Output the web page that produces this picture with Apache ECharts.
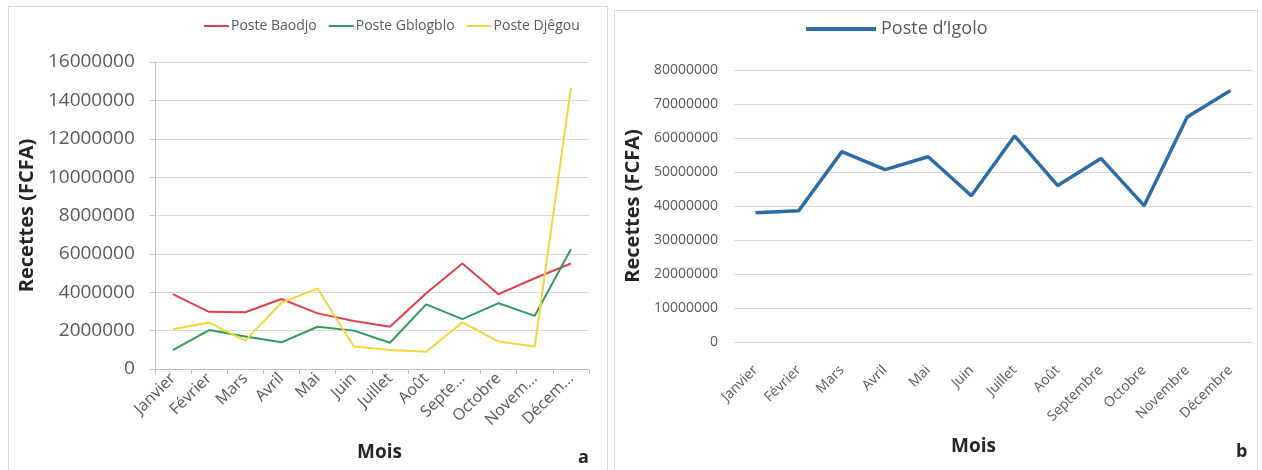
<!DOCTYPE html>
<html>
<head>
<meta charset="utf-8">
<script src="https://cdn.jsdelivr.net/npm/echarts@6/dist/echarts.min.js"></script>
<style>
  html, body { margin: 0; padding: 0; background: #fff; width: 1262px; height: 470px; overflow: hidden; }
  .panel { position: absolute; border: 1px solid #d9d9d9; box-sizing: border-box; background: #fff; }
  #chartA { left: 8px; top: 6px; width: 600px; height: 470px; }
  #chartB { left: 614px; top: 10px; width: 644px; height: 466px; }
</style>
</head>
<body>
<div id="chartA" class="panel"></div>
<div id="chartB" class="panel"></div>
<script>
// mois (axe x)
const moisCourts = ["Janvier", "Février", "Mars", "Avril", "Mai", "Juin", "Juillet", "Août", "Septe...", "Octobre", "Novem...", "Décem..."];
const moisLongs = ["Janvier", "Février", "Mars", "Avril", "Mai", "Juin", "Juillet", "Août", "Septembre", "Octobre", "Novembre", "Décembre"];

// recettes (FCFA) - graphique a
const baodjo = [3900000, 2980000, 2960000, 3650000, 2900000, 2500000, 2200000, 3950000, 5500000, 3900000, 4730000, 5500000];
const gblogblo = [990000, 2030000, 1690000, 1390000, 2200000, 2000000, 1370000, 3370000, 2600000, 3430000, 2770000, 6240000];
const djegou = [2070000, 2420000, 1480000, 3450000, 4200000, 1170000, 990000, 900000, 2430000, 1430000, 1170000, 14650000];

// recettes (FCFA) - graphique b
const igolo = [38000000, 38600000, 56000000, 50700000, 54500000, 43000000, 60600000, 46000000, 54000000, 40100000, 66200000, 74000000];

const gris = "#595959";
const police = "'Open Sans', Lato, sans-serif";
const brut = (v) => String(v); // pas de séparateur de milliers

// graphique a
const chartA = echarts.init(document.getElementById("chartA"));
chartA.setOption({
  animation: false,
  textStyle: { fontFamily: police },
  legend: {
    left: 190,
    top: 7,
    icon: "rect",
    itemWidth: 25,
    itemHeight: 2,
    itemGap: 12,
    textStyle: { color: gris, fontSize: 14, fontFamily: police, padding: [0, 0, 0, -3] },
    data: ["Poste Baodjo", "Poste Gblogblo", "Poste Djêgou"],
  },
  grid: { left: 139, right: 18, top: 55, bottom: 106 },
  xAxis: {
    type: "category",
    data: moisCourts,
    axisLine: { lineStyle: { color: "#bfbfbf" } },
    axisTick: { show: true, length: 5, lineStyle: { color: "#bfbfbf" } },
    axisLabel: { rotate: 45, color: gris, fontSize: 16, margin: 7, interval: 0 },
  },
  yAxis: {
    type: "value",
    min: 0,
    max: 16000000,
    interval: 2000000,
    name: "Recettes (FCFA)",
    nameLocation: "middle",
    nameGap: 116,
    nameTextStyle: { color: "#262626", fontSize: 20, fontWeight: "bold", fontFamily: police },
    axisLine: { show: true, lineStyle: { color: "#bfbfbf" } },
    axisTick: { show: true, length: 5, lineStyle: { color: "#bfbfbf" } },
    axisLabel: { color: gris, fontSize: 19, margin: 20, formatter: brut },
    splitLine: { lineStyle: { color: "#d9d9d9" } },
  },
  graphic: [
    { type: "text", left: 348, top: 436, style: { text: "Mois", fontSize: 19, fontWeight: "bold", fill: "#262626", fontFamily: police } },
    { type: "text", left: 569, top: 442, style: { text: "a", fontSize: 18, fontWeight: "bold", fill: "#262626", fontFamily: police } },
  ],
  series: [
    { name: "Poste Baodjo", type: "line", data: baodjo, symbol: "none", lineStyle: { color: "#e0404e", width: 2 }, itemStyle: { color: "#e0404e" } },
    { name: "Poste Gblogblo", type: "line", data: gblogblo, symbol: "none", lineStyle: { color: "#2f9b5c", width: 2 }, itemStyle: { color: "#2f9b5c" } },
    { name: "Poste Djêgou", type: "line", data: djegou, symbol: "none", lineStyle: { color: "#f4d53c", width: 2 }, itemStyle: { color: "#f4d53c" } },
  ],
});

// graphique b
const chartB = echarts.init(document.getElementById("chartB"));
chartB.setOption({
  animation: false,
  textStyle: { fontFamily: police },
  legend: {
    left: 186,
    top: 4,
    icon: "rect",
    itemWidth: 70,
    itemHeight: 4,
    textStyle: { color: gris, fontSize: 18, fontFamily: police },
    data: ["Poste d’Igolo"],
  },
  grid: { left: 109, right: 5, top: 59, bottom: 133 },
  xAxis: {
    type: "category",
    data: moisLongs,
    axisLine: { show: false },
    axisTick: { show: false },
    axisLabel: { rotate: 45, color: gris, fontSize: 14, margin: 26, interval: 0 },
  },
  yAxis: {
    type: "value",
    min: 0,
    max: 80000000,
    interval: 10000000,
    name: "Recettes (FCFA)",
    nameLocation: "middle",
    nameGap: 88,
    nameTextStyle: { color: "#262626", fontSize: 20, fontWeight: "bold", fontFamily: police },
    axisLine: { show: false },
    axisLabel: { color: gris, fontSize: 14, margin: 16, formatter: brut },
    splitLine: { lineStyle: { color: "#d9d9d9" } },
  },
  graphic: [
    { type: "text", left: 336, top: 426, style: { text: "Mois", fontSize: 19, fontWeight: "bold", fill: "#262626", fontFamily: police } },
    { type: "text", left: 621, top: 432, style: { text: "b", fontSize: 18, fontWeight: "bold", fill: "#262626", fontFamily: police } },
  ],
  series: [
    { name: "Poste d’Igolo", type: "line", data: igolo, symbol: "none", lineStyle: { color: "#2e6ca6", width: 3.5 }, itemStyle: { color: "#2e6ca6" } },
  ],
});
</script>
</body>
</html>
